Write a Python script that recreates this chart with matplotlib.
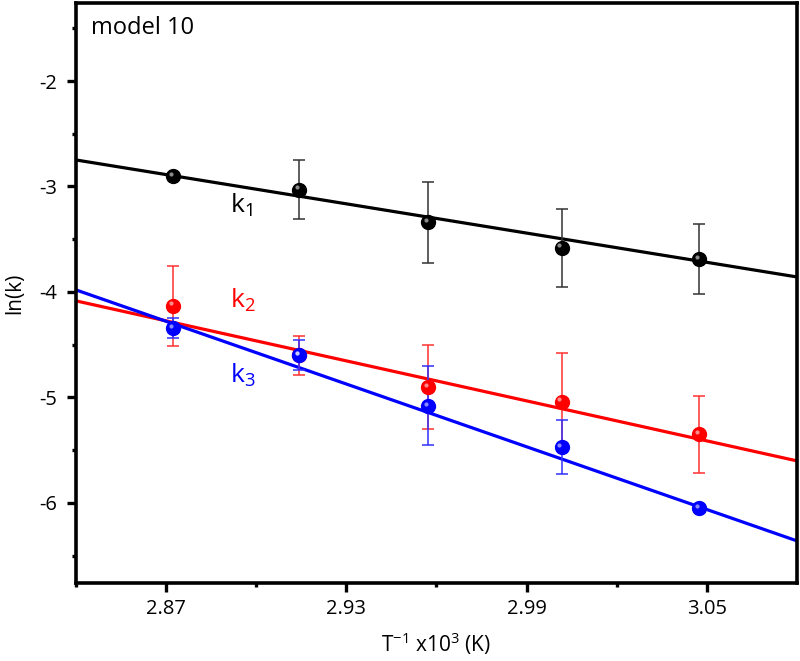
import matplotlib
matplotlib.use('Agg')
import matplotlib.pyplot as plt
import matplotlib.transforms as mtransforms
from matplotlib.ticker import MultipleLocator, FixedLocator
import numpy as np

plt.rcParams['font.family'] = ['Open Sans', 'DejaVu Sans']
plt.rcParams['mathtext.fontset'] = 'custom'
plt.rcParams['mathtext.rm'] = 'Open Sans'
plt.rcParams['mathtext.it'] = 'Open Sans'
plt.rcParams['axes.unicode_minus'] = False

# 1000/T for 75, 70, 65, 60, 55 C
inv_T = [2.8723, 2.9142, 2.9573, 3.0017, 3.0474]

lnk1 = [-2.90, -3.03, -3.34, -3.58, -3.69]
err1 = [0.03, 0.28, 0.385, 0.37, 0.33]
lnk2 = [-4.13, -4.60, -4.90, -5.04, -5.35]
err2 = [0.38, 0.185, 0.40, 0.46, 0.365]
lnk3 = [-4.34, -4.60, -5.08, -5.47, -6.05]
err3 = [0.095, 0.14, 0.375, 0.26, 0.02]

# linear fits ln(k) = a + b * (1000/T)
fit1 = (10.375, -4.621)
fit2 = (13.864, -6.32)
fit3 = (24.172, -9.913)

series = [
    (lnk1, err1, fit1, 'black', '#333333', r'k$_1$', (2.8913, -3.25)),
    (lnk2, err2, fit2, '#ff0000', '#ff3030', r'k$_2$', (2.8913, -4.15)),
    (lnk3, err3, fit3, '#0000ff', '#3030ff', r'k$_3$', (2.8913, -4.86)),
]

fig = plt.figure(figsize=(8, 6.61), dpi=100)
ax = fig.add_axes([0.095, 0.118, 0.901, 0.8775])
ax.set_xlim(2.84, 3.08)
ax.set_ylim(-6.76, -1.26)

xfit = np.array(ax.get_xlim())
hl = mtransforms.offset_copy(ax.transData, fig=fig, x=-1.6, y=1.6, units='points')

for lnk, err, fit, col, ecol, lab, pos in series:
    ax.plot(xfit, fit[0] + fit[1] * xfit, color=col, lw=2.3, zorder=2)
    ax.errorbar(inv_T, lnk, yerr=err, fmt='none', ecolor=ecol, elinewidth=1.1,
                capsize=4.5, capthick=1.1, zorder=3)
    ax.plot(inv_T, lnk, 'o', color=col, ms=10, mec=col, zorder=4)
    ax.plot(inv_T, lnk, 'o', color='white', ms=3, alpha=0.55, mew=0,
            transform=hl, zorder=5)
    ax.text(pos[0], pos[1], lab, color=col, fontsize=19, ha='left', va='baseline')

ax.text(0.021, 0.978, 'model 10', transform=ax.transAxes, fontsize=17,
        ha='left', va='top')

ax.xaxis.set_major_locator(FixedLocator([2.87, 2.93, 2.99, 3.05]))
ax.xaxis.set_minor_locator(FixedLocator([2.84, 2.90, 2.96, 3.02]))
ax.yaxis.set_major_locator(MultipleLocator(1))
ax.yaxis.set_minor_locator(MultipleLocator(0.5))
ax.set_xticklabels(['2.87', '2.93', '2.99', '3.05'])

ax.tick_params(which='major', direction='out', length=6.5, width=2.4, labelsize=14.5,
               top=False, right=False)
ax.tick_params(which='minor', direction='out', length=3, width=2.4,
               top=False, right=False)
ax.tick_params(axis='y', which='major', pad=7)
ax.tick_params(axis='x', which='major', pad=5)
for sp in ax.spines.values():
    sp.set_linewidth(2.6)

ax.set_xlabel(r'T$^{-1}$ x10$^{3}$ (K)', fontsize=15, labelpad=8)
ax.set_ylabel('ln(k)', fontsize=15, labelpad=10)

fig.savefig('out.png', dpi=100)
